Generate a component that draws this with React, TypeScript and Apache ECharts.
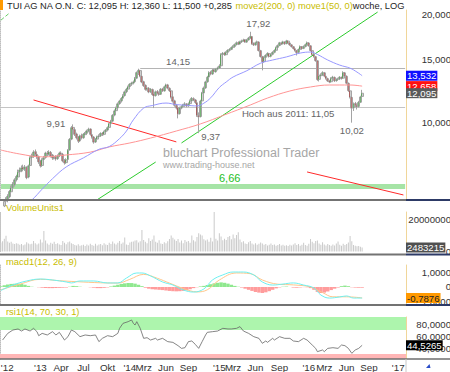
import React, { useEffect, useRef } from 'react';
import * as echarts from 'echarts';

const FONT = '"Liberation Sans", Arial, Helvetica, sans-serif';
const OLIVE = '#c8bc00';

// ---- categories / ticks ----
const weekStart = '2012-07-30';
const weekCount = 236;
const xTickLabels: [string, string][] = [
  ['2012-07-30', "'12"], ['2013-01-07', "'13"], ['2013-04-01', 'Apr'], ['2013-07-01', 'Jul'], ['2013-10-07', 'Okt'],
  ['2014-01-06', "'14"], ['2014-03-03', 'Mrz'], ['2014-06-02', 'Jun'], ['2014-09-01', 'Sep'],
  ['2015-01-05', "'15"], ['2015-03-02', 'Mrz'], ['2015-06-01', 'Jun'], ['2015-09-07', 'Sep'],
  ['2016-01-04', "'16"], ['2016-03-07', 'Mrz'], ['2016-06-06', 'Jun'], ['2016-09-05', 'Sep'], ['2017-01-02', "'17"],
];
const priceTicks = [10, 15, 20];
const volumeTicks = [0, 20000000];
const macdTicks = [-1, 0, 1];
const rsiTicks = [40, 60, 80];

// ---- weekly candles [open, close, low, high] ----
const candles: number[][] = [
  [5.62, 5.75, 5.55, 5.82], [5.76, 5.9, 5.7, 5.98], [5.88, 6.05, 5.84, 6.12], [6.06, 6.1, 5.95, 6.22], [6.12, 6.25, 6.02, 6.34],
  [6.24, 6.45, 6.18, 6.52], [6.44, 6.6, 6.38, 6.7], [6.62, 6.75, 6.5, 6.85], [6.74, 6.95, 6.66, 7.02], [6.96, 7.1, 6.88, 7.18],
  [7.08, 7.3, 7.0, 7.42], [7.32, 7.4, 7.18, 7.52], [7.38, 7.5, 7.3, 7.62], [7.52, 7.45, 7.34, 7.66], [7.44, 7.55, 7.36, 7.64],
  [7.52, 7.05, 6.98, 7.58], [7.08, 7.6, 7.02, 7.66], [7.62, 8.0, 7.55, 8.08], [8.02, 8.1, 7.92, 8.22], [8.08, 8.3, 8.0, 8.4],
  [8.32, 8.2, 8.1, 8.44], [8.18, 8.05, 7.95, 8.26], [8.06, 7.8, 7.7, 8.12], [7.82, 7.6, 7.52, 7.9], [7.62, 7.9, 7.55, 7.98],
  [7.92, 8.0, 7.82, 8.1], [8.02, 8.25, 7.96, 8.32], [8.24, 8.2, 8.08, 8.36], [8.18, 8.3, 8.12, 8.4], [8.28, 8.1, 8.02, 8.36],
  [8.12, 8.0, 7.9, 8.2], [8.02, 8.05, 7.92, 8.16], [8.06, 7.95, 7.86, 8.14], [7.96, 8.1, 7.9, 8.18], [8.12, 8.25, 8.04, 8.32],
  [8.24, 8.2, 8.1, 8.34], [8.18, 7.85, 7.78, 8.24], [7.86, 7.75, 7.66, 7.94], [7.76, 7.9, 7.7, 7.98], [7.92, 8.4, 7.88, 8.46],
  [8.42, 9.0, 8.38, 9.08], [9.02, 9.7, 8.96, 9.8], [9.72, 9.6, 9.44, 9.91], [9.58, 9.3, 9.2, 9.64], [9.32, 9.1, 9.0, 9.4],
  [9.12, 8.9, 8.8, 9.2], [8.92, 9.2, 8.86, 9.28], [9.22, 9.1, 9.0, 9.34], [9.1, 9.3, 9.04, 9.38], [9.28, 9.35, 9.18, 9.44],
  [9.36, 9.5, 9.28, 9.58], [9.52, 9.6, 9.42, 9.7], [9.62, 9.3, 9.22, 9.66], [9.28, 9.15, 9.05, 9.36], [9.14, 8.85, 8.76, 9.2],
  [8.86, 9.0, 8.8, 9.08], [9.02, 9.15, 8.94, 9.22], [9.16, 9.2, 9.06, 9.3], [9.22, 9.35, 9.14, 9.42], [9.36, 9.3, 9.2, 9.44],
  [9.3, 9.45, 9.24, 9.52], [9.46, 9.55, 9.38, 9.62], [9.56, 9.7, 9.48, 9.78], [9.72, 9.95, 9.66, 10.02], [9.96, 10.1, 9.88, 10.2],
  [10.12, 10.5, 10.06, 10.58], [10.52, 10.8, 10.44, 10.9], [10.82, 11.0, 10.74, 11.1], [11.02, 11.3, 10.96, 11.4], [11.32, 11.5, 11.24, 11.6],
  [11.52, 11.7, 11.4, 11.8], [11.72, 11.9, 11.62, 12.02], [11.92, 12.2, 11.84, 12.3], [12.22, 12.4, 12.1, 12.52], [12.42, 12.6, 12.3, 12.7],
  [12.62, 12.8, 12.5, 12.9], [12.82, 12.9, 12.68, 13.02], [12.92, 13.0, 12.8, 13.12], [13.02, 13.3, 12.94, 13.42], [13.32, 13.8, 13.24, 13.9],
  [13.82, 14.0, 13.6, 14.15], [13.98, 13.5, 13.4, 14.05], [13.48, 13.0, 12.9, 13.56], [13.02, 12.7, 12.6, 13.1], [12.72, 12.4, 12.3, 12.8],
  [12.42, 12.5, 12.3, 12.62], [12.48, 12.2, 12.1, 12.58], [12.22, 12.4, 12.12, 12.5], [12.38, 12.0, 11.9, 12.46], [12.02, 11.9, 11.0, 12.1],
  [11.92, 12.2, 11.84, 12.3], [12.22, 12.1, 12.0, 12.34], [12.08, 12.0, 11.9, 12.18], [12.02, 12.4, 11.96, 12.5], [12.42, 12.3, 12.2, 12.52],
  [12.28, 12.6, 12.22, 12.7], [12.62, 12.75, 12.5, 12.86], [12.76, 12.5, 12.4, 12.84], [12.48, 12.3, 12.2, 12.56], [12.28, 11.8, 11.7, 12.36],
  [11.82, 11.5, 11.4, 11.9], [11.52, 11.2, 11.1, 11.6], [11.18, 11.0, 10.9, 11.3], [11.02, 10.6, 10.3, 11.08], [10.62, 11.0, 10.56, 11.1],
  [11.02, 11.1, 10.92, 11.2], [11.12, 11.2, 11.0, 11.3], [11.22, 11.3, 11.1, 11.42], [11.28, 11.15, 11.06, 11.36], [11.16, 11.3, 11.08, 11.4],
  [11.32, 11.5, 11.24, 11.62], [11.52, 11.7, 11.44, 11.8], [11.68, 11.6, 11.5, 11.78], [11.58, 11.4, 11.3, 11.66], [11.38, 10.5, 10.4, 11.44],
  [10.48, 10.4, 9.37, 10.7], [10.42, 11.5, 10.36, 11.6], [11.52, 12.1, 11.44, 12.2], [12.12, 12.5, 12.04, 12.62], [12.52, 13.0, 12.44, 13.1],
  [13.02, 13.4, 12.94, 13.52], [13.42, 13.8, 13.34, 13.92], [13.82, 13.7, 13.56, 13.96], [13.68, 14.0, 13.6, 14.12], [14.02, 13.9, 13.78, 14.14],
  [13.88, 14.1, 13.8, 14.22], [14.12, 14.2, 14.0, 14.34], [14.22, 14.4, 14.12, 14.56], [14.42, 15.5, 14.36, 15.62], [15.52, 15.6, 15.36, 15.74],
  [15.62, 15.5, 15.36, 15.76], [15.48, 15.7, 15.4, 15.82], [15.72, 15.9, 15.62, 16.02], [15.92, 16.0, 15.8, 16.14], [16.02, 16.2, 15.94, 16.32],
  [16.22, 16.3, 16.1, 16.44], [16.32, 16.5, 16.22, 16.62], [16.52, 16.7, 16.42, 16.84], [16.72, 16.6, 16.46, 16.86], [16.58, 16.8, 16.5, 16.92],
  [16.82, 16.9, 16.68, 17.04], [16.92, 17.0, 16.8, 17.14], [17.02, 16.8, 16.7, 17.1], [16.78, 17.0, 16.7, 17.12], [17.02, 17.2, 16.94, 17.34],
  [17.22, 17.4, 17.1, 17.92], [17.38, 16.6, 16.5, 17.44], [16.62, 16.5, 16.36, 16.74], [16.48, 16.7, 16.4, 16.82], [16.72, 16.8, 16.6, 16.94],
  [16.78, 15.9, 15.8, 16.84], [15.88, 15.3, 15.2, 15.96], [15.28, 14.8, 14.0, 15.36], [14.82, 15.2, 14.7, 15.3], [15.22, 15.4, 15.1, 15.52],
  [15.42, 15.6, 15.3, 15.72], [15.58, 15.3, 15.2, 15.66], [15.32, 15.5, 15.22, 15.6], [15.52, 15.7, 15.42, 15.82], [15.72, 15.9, 15.62, 16.02],
  [15.92, 16.2, 15.84, 16.3], [16.22, 16.4, 16.12, 16.52], [16.42, 16.7, 16.34, 16.8], [16.68, 16.6, 16.46, 16.82], [16.62, 16.8, 16.52, 16.92],
  [16.78, 16.6, 16.48, 16.86], [16.62, 16.9, 16.54, 17.02], [16.88, 16.7, 16.58, 16.98], [16.68, 16.5, 16.38, 16.76], [16.48, 16.3, 16.2, 16.56],
  [16.28, 16.1, 16.0, 16.36], [16.08, 15.9, 15.8, 16.16], [15.88, 15.7, 15.4, 15.96], [15.72, 16.0, 15.64, 16.1], [16.02, 16.3, 15.94, 16.42],
  [16.28, 16.1, 16.0, 16.36], [16.12, 16.3, 16.04, 16.42], [16.32, 16.5, 16.22, 16.62], [16.52, 16.7, 16.42, 16.84], [16.68, 16.4, 16.3, 16.76],
  [16.38, 15.9, 15.8, 16.46], [15.88, 15.5, 15.4, 15.96], [15.48, 15.3, 15.2, 15.56], [15.28, 14.9, 14.8, 15.36], [14.88, 13.2, 13.1, 14.94],
  [13.22, 13.5, 13.04, 13.6], [13.52, 13.6, 13.4, 13.74], [13.62, 13.8, 13.5, 13.92], [13.78, 13.5, 13.4, 13.86], [13.48, 13.3, 13.2, 13.56],
  [13.28, 13.1, 13.0, 13.36], [13.08, 13.0, 12.9, 13.18], [13.02, 13.3, 12.94, 13.4], [13.32, 13.4, 13.2, 13.52], [13.38, 13.1, 13.0, 13.46],
  [13.12, 13.2, 13.02, 13.3], [13.22, 13.25, 13.1, 13.36], [13.26, 13.4, 13.16, 13.5], [13.38, 13.3, 13.2, 13.46], [13.32, 13.8, 13.26, 13.92],
  [13.78, 13.5, 13.4, 13.86], [13.48, 12.9, 12.8, 13.56], [12.88, 12.3, 12.2, 12.96], [12.28, 11.8, 11.7, 12.36], [11.78, 11.0, 10.02, 11.86],
  [11.02, 11.3, 10.8, 11.4], [11.32, 11.2, 11.06, 11.44], [11.18, 11.1, 10.9, 11.26], [11.12, 11.4, 11.04, 11.52], [11.42, 11.81, 11.36, 11.9],
  [11.85, 12.095, 11.5, 12.36],
];

// ---- weekly volume (units) ----
const volume: number[] = [
  5.6e6, 6.4e6, 8.0e6, 9.8e6, 6.2e6, 5.4e6, 6.0e6, 5.0e6, 4.6e6, 5.2e6, 4.8e6, 4.2e6, 4.6e6, 3.9e6, 4.4e6, 5.8e6, 5.0e6, 4.5e6, 4.8e6, 6.5e6,
  5.2e6, 4.4e6, 5.0e6, 7.4e6, 5.6e6, 12.8e6, 6.8e6, 5.0e6, 4.2e6, 5.5e6, 4.8e6, 6.0e6, 4.6e6, 5.2e6, 4.4e6, 4.0e6, 6.5e6, 5.4e6, 4.5e6, 5.8e6,
  6.3e6, 5.1e6, 4.6e6, 4.0e6, 3.8e6, 4.5e6, 3.6e6, 3.9e6, 4.2e6, 3.5e6, 4.4e6, 3.8e6, 4.8e6, 4.1e6, 3.6e6, 4.9e6, 3.8e6, 4.3e6, 4.7e6, 3.9e6,
  5.1e6, 4.4e6, 4.0e6, 5.5e6, 4.6e6, 6.2e6, 5.0e6, 4.4e6, 5.4e6, 6.5e6, 4.8e6, 5.6e6, 8.7e6, 4.4e6, 4.0e6, 5.6e6, 6.0e6, 6.2e6, 6.8e6, 7.0e6,
  5.6e6, 6.4e6, 13.4e6, 7.2e6, 6.0e6, 5.2e6, 8.2e6, 6.6e6, 7.4e6, 9.9e6, 6.0e6, 5.4e6, 7.0e6, 5.0e6, 4.6e6, 5.8e6, 5.2e6, 6.4e6, 7.8e6, 9.9e6,
  8.6e6, 7.4e6, 6.6e6, 7.8e6, 5.6e6, 6.8e6, 5.2e6, 7.2e6, 6.0e6, 6.6e6, 5.4e6, 9.9e6, 7.0e6, 6.2e6, 9.0e6, 11.3e6, 10.6e6, 9.9e6, 7.6e6, 6.8e6,
  7.4e6, 6.0e6, 8.6e6, 6.2e6, 24.6e6, 8.0e6, 6.8e6, 11.3e6, 9.4e6, 7.0e6, 8.0e6, 7.2e6, 9.0e6, 9.6e6, 7.6e6, 10.6e6, 8.2e6, 10.2e6, 12.0e6, 7.4e6,
  5.8e6, 6.4e6, 5.0e6, 4.6e6, 5.8e6, 6.6e6, 5.0e6, 4.4e6, 5.2e6, 4.2e6, 4.8e6, 5.6e6, 5.0e6, 4.2e6, 4.6e6, 3.8e6, 4.2e6, 5.0e6, 4.0e6, 4.4e6,
  3.6e6, 4.0e6, 4.6e6, 3.8e6, 4.2e6, 3.6e6, 3.9e6, 3.4e6, 4.2e6, 3.8e6, 4.4e6, 5.2e6, 4.0e6, 4.6e6, 3.6e6, 4.2e6, 5.4e6, 4.0e6, 3.6e6, 4.8e6,
  7.8e6, 6.0e6, 5.2e6, 6.6e6, 6.8e6, 5.0e6, 4.2e6, 5.8e6, 4.4e6, 3.8e6, 4.6e6, 4.0e6, 3.6e6, 4.4e6, 3.8e6, 5.0e6, 6.2e6, 4.2e6, 3.6e6, 4.8e6,
  4.0e6, 4.6e6, 5.6e6, 9.7e6, 6.4e6, 4.0e6, 3.6e6, 3.2e6, 3.4e6, 3.0e6, 2483215,
];

// ---- moving averages [week, value] ----
const ma50: number[][] = [
  [8, 5.6], [18, 6.11], [24, 6.55], [30, 7.0], [38, 7.55], [48, 8.0], [57, 8.45], [63, 8.6], [69, 9.05], [73, 9.5],
  [77, 10.2], [83, 11.0], [88, 11.18], [96, 11.36], [102, 11.25], [108, 11.2], [114, 11.15], [118, 11.35], [122, 11.75],
  [127, 12.55], [131, 13.0], [135, 13.42], [143, 13.97], [151, 14.66], [158, 14.96], [166, 15.26], [174, 15.64],
  [180, 15.74], [184, 15.5], [190, 14.96], [197, 14.48], [203, 14.2], [207, 13.85], [210, 13.532],
];
const ma200: number[][] = [
  [0, 8.41], [11, 8.2], [24, 8.05], [38, 8.15], [52, 8.3], [63, 8.58], [75, 8.8], [87, 9.08], [102, 9.5], [116, 9.94],
  [130, 10.53], [145, 11.22], [155, 11.73], [168, 12.27], [180, 12.59], [191, 12.75], [203, 12.75], [210, 12.658],
];

// ---- MACD [week, value] ----
const macdLine: number[][] = [
  [0, -0.25], [7, 0.14], [15, 0.43], [23, 0.57], [30, 0.5], [38, 0.36], [41, 0.29], [46, 0.43], [54, 0.43], [62, 0.29],
  [68, 0.29], [73, 0.64], [79, 1.0], [82, 1.0], [87, 0.79], [94, 0.36], [100, 0.14], [106, -0.21], [112, -0.36], [118, -0.14],
  [123, 0.5], [129, 0.86], [135, 1.07], [141, 1.07], [147, 0.86], [152, 0.36], [158, 0.14], [164, 0.21], [170, 0.29],
  [176, 0.14], [182, -0.07], [186, -0.57], [191, -0.79], [197, -0.71], [201, -0.64], [205, -0.79], [210, -0.7876],
];
const signalLine: number[][] = [
  [0, -0.2], [11, 0.2], [23, 0.55], [34, 0.45], [44, 0.38], [58, 0.3], [68, 0.28], [75, 0.55], [83, 0.9], [91, 0.62],
  [98, 0.28], [106, -0.1], [114, -0.35], [120, -0.2], [127, 0.5], [137, 1.0], [145, 0.95], [152, 0.5], [161, 0.2],
  [170, 0.15], [180, 0.0], [187, -0.4], [193, -0.7], [201, -0.7], [210, -0.78],
];
const macdHist: number[][] = [
  [0, 0.05], [2, 0.12], [4, 0.18], [6, 0.22], [8, 0.24], [10, 0.24], [12, 0.21], [14, 0.16], [16, 0.08], [18, 0.02],
  [20, 0], [22, -0.02], [24, -0.05], [26, -0.07], [28, -0.08], [30, -0.08], [32, -0.07], [34, -0.06], [36, -0.05], [38, -0.04],
  [40, 0.02], [42, 0.08], [44, 0.06], [46, 0.02], [48, 0], [50, 0], [52, -0.02], [54, -0.05], [56, -0.08], [58, -0.08],
  [60, -0.06], [62, -0.03], [64, 0.04], [66, 0.1], [68, 0.16], [70, 0.22], [72, 0.26], [74, 0.28], [76, 0.28], [78, 0.24],
  [80, 0.16], [82, 0.06], [84, -0.05], [86, -0.12], [88, -0.16], [90, -0.18], [92, -0.2], [94, -0.22], [96, -0.25], [98, -0.28],
  [100, -0.3], [102, -0.31], [104, -0.3], [106, -0.28], [108, -0.24], [110, -0.16], [112, -0.08], [114, -0.02], [116, 0.04], [118, 0.08],
  [120, 0.14], [122, 0.2], [124, 0.26], [126, 0.3], [128, 0.33], [130, 0.3], [132, 0.24], [134, 0.16], [136, 0.08], [138, 0.02],
  [140, -0.04], [142, -0.12], [144, -0.2], [146, -0.28], [148, -0.35], [150, -0.4], [152, -0.43], [154, -0.38], [156, -0.3], [158, -0.2],
  [160, -0.1], [162, -0.03], [164, 0.02], [166, 0.03], [168, 0], [170, -0.04], [172, -0.05], [174, -0.03], [176, -0.01], [178, -0.02],
  [180, -0.08], [182, -0.2], [184, -0.35], [186, -0.43], [188, -0.4], [190, -0.32], [192, -0.22], [194, -0.12], [196, -0.04], [198, 0.06],
  [200, 0.1], [202, 0.06], [204, -0.02], [206, -0.04], [208, -0.05], [210, -0.05],
];

// ---- RSI [week, value] ----
const rsi: number[][] = [
  [1, 53.3], [4, 64.4], [7, 70], [10, 71.7], [12, 68.3], [14, 71.7], [17, 68.3], [19, 72.8], [21, 67.2], [22, 60.5],
  [24, 64.4], [27, 61.7], [30, 67.2], [32, 61.7], [34, 66.1], [37, 53.3], [39, 58.9], [41, 70], [43, 67.2], [46, 58.9],
  [49, 61.7], [52, 60.5], [55, 61.7], [57, 50.6], [59, 56.1], [62, 60.5], [65, 58.9], [68, 64.4], [69, 72.8], [71, 81.1],
  [74, 83.9], [76, 86.7], [77, 81.1], [78, 78.3], [79, 83.9], [81, 72.8], [83, 56.1], [85, 57.2], [87, 53.3], [90, 56.1],
  [91, 53.3], [94, 56.1], [97, 50.6], [100, 49.4], [103, 43.9], [105, 39.4], [107, 40.5], [109, 50.6], [111, 51.7], [113, 46.1],
  [115, 39.4], [117, 50.6], [119, 61.7], [120, 66.1], [123, 67.2], [126, 68.3], [129, 72.8], [132, 71.7], [134, 71.7], [137, 72.8],
  [139, 75.6], [141, 68.3], [144, 64.4], [147, 58.9], [150, 56.1], [152, 47.8], [154, 51.7], [155, 49.4], [158, 56.1], [159, 53.3],
  [162, 58.9], [165, 56.1], [168, 56.1], [170, 51.7], [173, 50.6], [176, 56.1], [178, 53.3], [181, 45], [183, 39.4], [184, 33.9],
  [187, 36.7], [188, 33.9], [190, 39.4], [193, 40.5], [196, 39.4], [198, 45], [200, 43.9], [202, 39.4], [204, 31.1], [206, 36.7],
  [208, 39.4], [210, 44.5265],
];

// ---- drawn lines and notes (week index, price) ----
const trendLines = [
  { from: [19, 11.585], to: [102, 8.86], color: '#ff2a2a', dashed: false },
  { from: [178, 7.31], to: [234, 6.31], color: '#ff2a2a', dashed: false },
  { from: [105, 8.8], to: [219, 20.33], color: '#2ecc2e', dashed: false },
  { from: [56, 6.12], to: [90, 7.79], color: '#2ecc2e', dashed: false },
  { from: [0, 19.3], to: [5, 20.2], color: '#6ad06a', dashed: true },
];
const levels = [
  { price: 14.15, fromWeek: 81, color: '#b4b4b4', width: 1 },
  { price: 11.05, fromWeek: 0, color: '#c4c4c4', width: 1 },
  { price: 6.66, fromWeek: 0, color: '#a6e4a6', width: 5 },
];
const notes = [
  { text: '14,15', week: 103, price: 14.15, dx: 0, dy: -7, color: '#666', size: 9.6 },
  { text: '17,92', week: 145, price: 17.92, dx: 8, dy: -8, color: '#666', size: 9.6 },
  { text: '9,91', week: 32, price: 9.91, dx: 0, dy: -1, color: '#666', size: 9.6 },
  { text: '9,37', week: 115, price: 9.37, dx: 12, dy: 3, color: '#666', size: 9.6 },
  { text: '10,02', week: 204, price: 10.02, dx: 0, dy: 8, color: '#666', size: 9.6 },
  { text: 'Hoch aus 2011: 11,05', week: 167, price: 11.05, dx: 0, dy: 6, color: '#666', size: 9.6 },
  { text: '6,66', week: 133, price: 6.66, dx: 0, dy: -8.5, color: '#22c022', size: 11 },
];

// ---- axis ranges ----
const PRICE_MIN = 6.11, PRICE_MAX = 20.6;
const VOL_MAX = 24.6e6;
const MACD_MIN = -1.214, MACD_MAX = 1.571;
const RSI_MIN = 21.67, RSI_MAX = 91.67;

const comma = (v: number, d: number) => v.toFixed(d).replace('.', ',');

function buildWeeks(): string[] {
  const out: string[] = [];
  const t0 = Date.parse(weekStart + 'T00:00:00Z');
  for (let i = 0; i < weekCount; i++) out.push(new Date(t0 + i * 7 * 86400000).toISOString().slice(0, 10));
  return out;
}

const badge = (y: number, text: string, bg: string, fg: string) => ({
  silent: true,
  symbol: ['none', 'none'],
  lineStyle: { color: 'rgba(0,0,0,0)', width: 0 },
  label: {
    show: true, position: 'end', distance: 0, formatter: text, backgroundColor: bg, color: fg,
    fontSize: 9.6, fontFamily: FONT, padding: [1, 1, 0, 1], lineHeight: 9,
  },
  data: [{ yAxis: y }],
});

export default function App() {
  const ref = useRef<HTMLDivElement>(null);
  useEffect(() => {
    if (!ref.current) return;
    const chart = echarts.init(ref.current, undefined, { renderer: 'svg' });
    const weeks = buildWeeks();
    const labelMap: Record<string, string> = {};
    xTickLabels.forEach(([d, l]) => { labelMap[d] = l; });
    const last = candles[candles.length - 1];
    const prev = candles[candles.length - 2];
    const lastIdx = candles.length - 1;

    const gridDefs = [
      { top: 10, height: 190 },
      { top: 212, height: 39.5 },
      { top: 265, height: 39 },
      { top: 317, height: 42 },
    ];
    const grid = gridDefs.map((g) => ({ left: 0, right: 44, top: g.top, height: g.height, containLabel: false, outerBoundsMode: 'none' }));
    const xAxis = gridDefs.map((_, i) => ({
      type: 'category', gridIndex: i, data: weeks, boundaryGap: true,
      axisLine: { show: false }, axisTick: { show: false }, splitLine: { show: false },
      axisLabel: i === 3 ? {
        show: true, color: '#333', fontSize: 9.8, fontFamily: FONT, margin: 3, alignMinLabel: 'left',
        interval: (_idx: number, val: string) => labelMap[val] !== undefined,
        formatter: (val: string) => labelMap[val] || '',
      } : { show: false },
    }));
    const rightAxisBase = {
      position: 'right', axisLine: { show: true, lineStyle: { color: '#f0d69a', width: 1 } },
      axisTick: { show: false }, splitLine: { show: false },
    };
    const labelBase = { align: 'right', margin: 45, color: '#333', fontSize: 9.6, fontFamily: FONT };
    const yAxis: any[] = [
      { ...rightAxisBase, type: 'log', logBase: 10, gridIndex: 0, min: PRICE_MIN, max: PRICE_MAX,
        axisLabel: { ...labelBase, customValues: priceTicks, formatter: (v: number) => comma(v, 3) } },
      { ...rightAxisBase, type: 'value', gridIndex: 1, min: 0, max: VOL_MAX,
        axisLabel: { ...labelBase, customValues: volumeTicks, formatter: (v: number) => String(Math.round(v)) } },
      { ...rightAxisBase, type: 'value', gridIndex: 2, min: MACD_MIN, max: MACD_MAX,
        axisLabel: { ...labelBase, customValues: macdTicks, formatter: (v: number) => (v === 0 ? '0' : comma(v, 4)) } },
      { ...rightAxisBase, type: 'value', gridIndex: 3, min: RSI_MIN, max: RSI_MAX,
        axisLabel: { ...labelBase, customValues: rsiTicks, formatter: (v: number) => comma(v, 4) } },
    ];
    for (let i = 0; i < 4; i++) {
      yAxis.push({
        type: 'value', gridIndex: i, position: 'left', min: 0, max: 1,
        axisLine: { show: true, lineStyle: { color: '#bdbdbd', type: 'dotted' } },
        axisTick: { show: false }, axisLabel: { show: false }, splitLine: { show: false },
      });
    }

    const trendMarks = trendLines.map((t) => [
      { coord: t.from, lineStyle: { color: t.color, width: 1, type: t.dashed ? 'dashed' : 'solid' } },
      { coord: t.to },
    ]);
    const levelMarks = levels.map((l) => [
      { coord: [l.fromWeek, l.price], lineStyle: { color: l.color, width: l.width, type: 'solid' } },
      { coord: [weekCount - 1, l.price] },
    ]);

    const series: any[] = [
      {
        name: 'range', type: 'candlestick', xAxisIndex: 0, yAxisIndex: 0, z: 2,
        data: candles, barWidth: 2.4, clip: true,
        itemStyle: { color: '#cfcfcf', color0: '#cfcfcf', borderColor: '#a4a4a4', borderColor0: '#a4a4a4', borderWidth: 1 },
        markLine: {
          silent: true, symbol: ['none', 'none'], label: { show: false }, z: 1,
          data: [...levelMarks, ...trendMarks],
        },
        markPoint: {
          symbol: 'circle', symbolSize: 1, itemStyle: { color: 'rgba(0,0,0,0)' },
          data: notes.map((n) => ({
            coord: [n.week, n.price], value: n.text,
            label: { show: true, position: 'inside', formatter: n.text, offset: [n.dx, n.dy], color: n.color, fontSize: n.size, fontFamily: FONT },
          })),
        },
      },
      {
        name: 'body', type: 'candlestick', xAxisIndex: 0, yAxisIndex: 0, z: 3,
        data: candles.map(([o, c]) => [o, c, Math.min(o, c), Math.max(o, c)]), barWidth: 1.3, clip: true,
        itemStyle: { color: '#1f9a1f', color0: '#a81c1c', borderColor: '#1f9a1f', borderColor0: '#a81c1c', borderWidth: 0.5 },
      },
      {
        name: 'move2', type: 'line', xAxisIndex: 0, yAxisIndex: 0, z: 4, data: ma200, smooth: 0.4, symbol: 'none',
        lineStyle: { color: '#ff9494', width: 1 }, markLine: badge(ma200[ma200.length - 1][1], comma(ma200[ma200.length - 1][1], 3), '#ff1010', '#fff'),
      },
      {
        name: 'move1', type: 'line', xAxisIndex: 0, yAxisIndex: 0, z: 4, data: ma50, smooth: 0.4, symbol: 'none',
        lineStyle: { color: '#9898ff', width: 1 }, markLine: badge(ma50[ma50.length - 1][1], comma(ma50[ma50.length - 1][1], 3), '#1010ff', '#fff'),
      },
      {
        name: 'close', type: 'line', xAxisIndex: 0, yAxisIndex: 0, z: 6, data: [[lastIdx, last[1]]], symbol: 'none',
        lineStyle: { width: 0 }, markLine: badge(last[1], comma(last[1], 3), '#5a5a5a', '#fff'),
      },
      {
        name: 'volume', type: 'bar', xAxisIndex: 1, yAxisIndex: 1, data: volume, barWidth: 1,
        itemStyle: { color: '#cacaca' },
        markLine: badge(volume[volume.length - 1], String(volume[volume.length - 1]), '#505050', '#fff'),
      },
      {
        name: 'hist', type: 'bar', xAxisIndex: 2, yAxisIndex: 2, data: macdHist, barWidth: 3.45,
        itemStyle: { color: (p: any) => (p.value[1] >= 0 ? '#8fe88f' : '#ff9c9c') },
      },
      {
        name: 'signal', type: 'line', xAxisIndex: 2, yAxisIndex: 2, data: signalLine, smooth: 0.4, symbol: 'none',
        lineStyle: { color: '#ffc68a', width: 1 },
      },
      {
        name: 'macd', type: 'line', xAxisIndex: 2, yAxisIndex: 2, data: macdLine, smooth: 0.4, symbol: 'none', z: 5,
        lineStyle: { color: '#6ef0f0', width: 1 },
        markLine: badge(macdLine[macdLine.length - 1][1], comma(macdLine[macdLine.length - 1][1], 4), '#ff9900', '#222'),
      },
      {
        name: 'rsi', type: 'line', xAxisIndex: 3, yAxisIndex: 3, data: rsi, symbol: 'none',
        lineStyle: { color: '#666666', width: 0.8 },
        markArea: {
          silent: true,
          data: [
            [{ yAxis: 70, itemStyle: { color: '#adf5ad' } }, { yAxis: RSI_MAX }],
            [{ yAxis: RSI_MIN, itemStyle: { color: '#ffb6b6' } }, { yAxis: 30 }],
          ],
        },
        markLine: badge(rsi[rsi.length - 1][1], comma(rsi[rsi.length - 1][1], 4), '#000', '#fff'),
      },
    ];

    const titleMain = `TUI AG NA O.N. C: ${comma(last[1], 3)} H: ${comma(last[3], 3)} L: ${comma(last[2], 3)} +${comma(last[1] - prev[1], 3)} `;
    const sep = (y: number, w: number) => [
      { type: 'line', z: 100, silent: true, shape: { x1: 0, y1: y, x2: 406, y2: y }, style: { stroke: '#737373', lineWidth: w } },
      { type: 'line', z: 100, silent: true, shape: { x1: 406, y1: y, x2: 450, y2: y }, style: { stroke: '#2d3a66', lineWidth: w } },
    ];
    const txt = (x: number, y: number, text: string, fill: string, size: number) => ({
      type: 'text', x, y, z: 50, silent: true,
      style: { text, fill, fontSize: size, fontFamily: FONT, verticalAlign: 'middle' },
    });

    const graphic: any[] = [
      { type: 'rect', z: 60, silent: true, shape: { x: 0, y: 0, width: 3, height: 10 }, style: { fill: '#ff9a00' } },
      {
        type: 'text', x: 7, y: 6, z: 60, silent: true,
        style: {
          text: `{a|${titleMain}}{b|move2(200, 0) move1(50, 0)}{a|woche, LOG}`,
          fontSize: 9.3, fontFamily: FONT, verticalAlign: 'middle',
          rich: {
            a: { fill: '#1e1e1e', fontSize: 9.3, fontFamily: FONT },
            b: { fill: OLIVE, fontSize: 9.3, fontFamily: FONT },
          },
        },
      },
      txt(6, 207, 'VolumeUnits1', OLIVE, 9.4),
      txt(6, 261, 'macd1(12, 26, 9)', OLIVE, 9.4),
      txt(6, 311, 'rsi1(14, 70, 30, 1)', OLIVE, 9.4),
      txt(163, 153, 'bluchart Professional Trader', '#a6a6a6', 12.5),
      txt(163, 164.5, 'www.trading-house.net', '#a6a6a6', 9),
      ...sep(200, 2), ...sep(254.5, 2), ...sep(305, 2),
      { type: 'line', z: 100, silent: true, shape: { x1: 0, y1: 359, x2: 450, y2: 359 }, style: { stroke: '#6e6e6e', lineWidth: 1.5 } },
      { type: 'line', z: 100, silent: true, shape: { x1: 406, y1: 359, x2: 406, y2: 372 }, style: { stroke: '#c8c8c8', lineWidth: 1 } },
      { type: 'polygon', z: 100, silent: true, shape: { points: [[426, 368], [429.5, 364], [430.5, 368]] }, style: { fill: '#2a4cc8' } },
    ];

    chart.setOption({
      animation: false,
      backgroundColor: '#ffffff',
      textStyle: { fontFamily: FONT },
      grid, xAxis, yAxis, series, graphic,
    });
    return () => chart.dispose();
  }, []);
  return <div ref={ref} style={{ position: 'fixed', left: 0, top: 0, width: 450, height: 372, background: '#fff' }} />;
}
